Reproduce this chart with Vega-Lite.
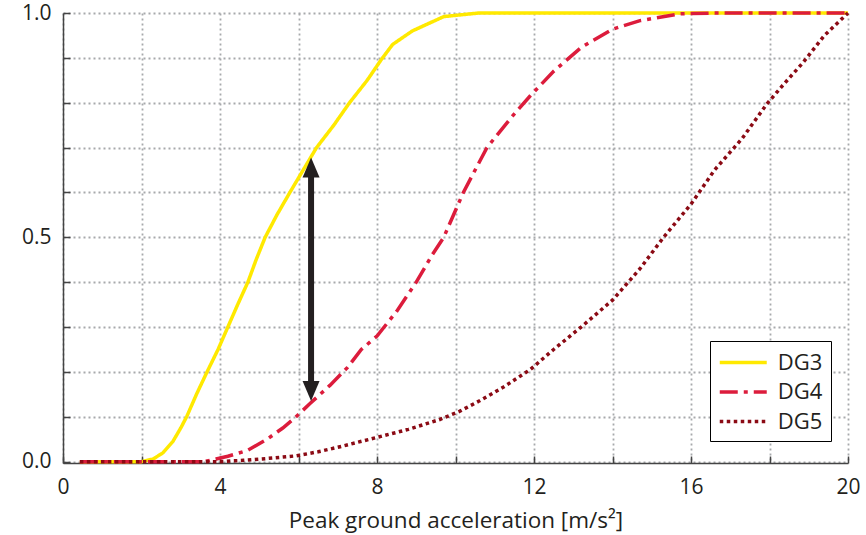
{
  "$schema": "https://vega.github.io/schema/vega-lite/v6.json",
  "width": 785,
  "height": 450,
  "autosize": "none",
  "padding": {"left": 63, "top": 13, "right": 18, "bottom": 72},
  "config": {
    "view": {"stroke": null},
    "font": "Open Sans",
    "axis": {
      "grid": true,
      "gridColor": "#a7a9ac",
      "gridDash": [2, 3],
      "gridWidth": 1.8,
      "domainColor": "#444444",
      "domainWidth": 1.5,
      "tickColor": "#444444",
      "tickWidth": 1.5,
      "tickSize": -7,
      "labelFlush": false,
      "labelFont": "Open Sans",
      "labelFontSize": 21,
      "labelColor": "#231f20",
      "titleFont": "Open Sans",
      "titleFontSize": 22.5,
      "titleFontWeight": "normal",
      "titleColor": "#231f20"
    },
    "legend": {
      "title": null,
      "orient": "none",
      "legendX": 647,
      "legendY": 328,
      "strokeColor": "#000000",
      "fillColor": "#ffffff",
      "padding": 8,
      "symbolType": "M-2,0L2,0",
      "symbolSize": 552,
      "symbolOffset": 11.75,
      "symbolStrokeWidth": 3.5,
      "symbolFillColor": "transparent",
      "labelFontSize": 22,
      "labelFont": "Open Sans",
      "labelColor": "#231f20",
      "labelOffset": 21,
      "rowPadding": 4.5
    }
  },
  "datasets": {
    "curves": [
      {"g": "DG3", "x": 0.43, "y": 0},
      {"g": "DG3", "x": 2.0, "y": 0},
      {"g": "DG3", "x": 2.3, "y": 0.006},
      {"g": "DG3", "x": 2.55, "y": 0.02},
      {"g": "DG3", "x": 2.8, "y": 0.045},
      {"g": "DG3", "x": 3.0, "y": 0.075},
      {"g": "DG3", "x": 3.15, "y": 0.1},
      {"g": "DG3", "x": 3.4, "y": 0.15},
      {"g": "DG3", "x": 3.67, "y": 0.2},
      {"g": "DG3", "x": 3.95, "y": 0.25},
      {"g": "DG3", "x": 4.2, "y": 0.3},
      {"g": "DG3", "x": 4.45, "y": 0.35},
      {"g": "DG3", "x": 4.71, "y": 0.4},
      {"g": "DG3", "x": 4.92, "y": 0.45},
      {"g": "DG3", "x": 5.15, "y": 0.5},
      {"g": "DG3", "x": 5.45, "y": 0.55},
      {"g": "DG3", "x": 5.78, "y": 0.6},
      {"g": "DG3", "x": 6.12, "y": 0.65},
      {"g": "DG3", "x": 6.46, "y": 0.7},
      {"g": "DG3", "x": 6.9, "y": 0.75},
      {"g": "DG3", "x": 7.3, "y": 0.8},
      {"g": "DG3", "x": 7.75, "y": 0.85},
      {"g": "DG3", "x": 8.1, "y": 0.895},
      {"g": "DG3", "x": 8.4, "y": 0.93},
      {"g": "DG3", "x": 8.9, "y": 0.96},
      {"g": "DG3", "x": 9.7, "y": 0.992},
      {"g": "DG3", "x": 10.6, "y": 1.0},
      {"g": "DG3", "x": 20, "y": 1.0},
      {"g": "DG4", "x": 0.43, "y": 0},
      {"g": "DG4", "x": 3.6, "y": 0},
      {"g": "DG4", "x": 3.9, "y": 0.006},
      {"g": "DG4", "x": 4.2, "y": 0.012},
      {"g": "DG4", "x": 4.7, "y": 0.025},
      {"g": "DG4", "x": 5.2, "y": 0.05},
      {"g": "DG4", "x": 5.6, "y": 0.075},
      {"g": "DG4", "x": 5.9, "y": 0.097},
      {"g": "DG4", "x": 6.3, "y": 0.13},
      {"g": "DG4", "x": 6.8, "y": 0.17},
      {"g": "DG4", "x": 7.25, "y": 0.21},
      {"g": "DG4", "x": 7.6, "y": 0.25},
      {"g": "DG4", "x": 8.0, "y": 0.28},
      {"g": "DG4", "x": 8.5, "y": 0.335},
      {"g": "DG4", "x": 9.0, "y": 0.4},
      {"g": "DG4", "x": 9.4, "y": 0.46},
      {"g": "DG4", "x": 9.7, "y": 0.5},
      {"g": "DG4", "x": 10.2, "y": 0.6},
      {"g": "DG4", "x": 10.8, "y": 0.7},
      {"g": "DG4", "x": 11.45, "y": 0.77},
      {"g": "DG4", "x": 11.9, "y": 0.815},
      {"g": "DG4", "x": 12.5, "y": 0.87},
      {"g": "DG4", "x": 13.2, "y": 0.923},
      {"g": "DG4", "x": 14.0, "y": 0.964},
      {"g": "DG4", "x": 14.7, "y": 0.983},
      {"g": "DG4", "x": 15.7, "y": 0.998},
      {"g": "DG4", "x": 16.6, "y": 1.0},
      {"g": "DG4", "x": 20, "y": 1.0},
      {"g": "DG5", "x": 0.43, "y": 0},
      {"g": "DG5", "x": 4.0, "y": 0},
      {"g": "DG5", "x": 4.6, "y": 0.003},
      {"g": "DG5", "x": 5.2, "y": 0.007},
      {"g": "DG5", "x": 5.95, "y": 0.013},
      {"g": "DG5", "x": 6.5, "y": 0.022},
      {"g": "DG5", "x": 7.0, "y": 0.032},
      {"g": "DG5", "x": 7.5, "y": 0.043},
      {"g": "DG5", "x": 8.0, "y": 0.054},
      {"g": "DG5", "x": 8.8, "y": 0.072},
      {"g": "DG5", "x": 9.6, "y": 0.094},
      {"g": "DG5", "x": 10.1, "y": 0.112},
      {"g": "DG5", "x": 10.6, "y": 0.135},
      {"g": "DG5", "x": 11.2, "y": 0.165},
      {"g": "DG5", "x": 11.9, "y": 0.205},
      {"g": "DG5", "x": 12.5, "y": 0.25},
      {"g": "DG5", "x": 13.2, "y": 0.3},
      {"g": "DG5", "x": 14.0, "y": 0.36},
      {"g": "DG5", "x": 14.7, "y": 0.43},
      {"g": "DG5", "x": 15.3, "y": 0.5},
      {"g": "DG5", "x": 16.0, "y": 0.574},
      {"g": "DG5", "x": 16.6, "y": 0.65},
      {"g": "DG5", "x": 17.3, "y": 0.72},
      {"g": "DG5", "x": 17.93, "y": 0.797},
      {"g": "DG5", "x": 18.4, "y": 0.845},
      {"g": "DG5", "x": 18.86, "y": 0.89},
      {"g": "DG5", "x": 19.4, "y": 0.95},
      {"g": "DG5", "x": 20, "y": 1.0}
    ],
    "arrow": [{"x": 6.32, "top": 0.678, "bottom": 0.135}]
  },
  "layer": [
    {
      "data": {"name": "curves"},
      "mark": {"type": "line", "strokeWidth": 3.5, "strokeCap": "butt"},
      "encoding": {
        "x": {
          "field": "x", "type": "quantitative",
          "scale": {"domain": [0, 20], "nice": false, "zero": false},
          "axis": {
            "values": [0, 2, 4, 6, 8, 10, 12, 14, 16, 18, 20],
            "labelExpr": "datum.value % 4 == 0 ? datum.label : ''",
            "title": "Peak ground acceleration [m/s²]",
            "labelPadding": 20,
            "titlePadding": 12
          }
        },
        "y": {
          "field": "y", "type": "quantitative",
          "scale": {"domain": [-0.003, 1], "nice": false, "zero": false},
          "axis": {
            "values": [0, 0.1, 0.2, 0.3, 0.4, 0.5, 0.6, 0.7, 0.8, 0.9, 1],
            "labelExpr": "datum.value == 0 || datum.value == 0.5 || datum.value == 1 ? format(datum.value, '.1f') : ''",
            "title": null,
            "labelPadding": 19
          }
        },
        "color": {
          "field": "g", "type": "nominal",
          "scale": {"domain": ["DG3", "DG4", "DG5"], "range": ["#ffe900", "#dc1c3c", "#8b0a14"]},
          "legend": {"title": null}
        },
        "strokeDash": {
          "field": "g", "type": "nominal",
          "scale": {"domain": ["DG3", "DG4", "DG5"], "range": [[1, 0], [18, 6, 4, 6], [3.5, 3.5]]},
          "legend": {"title": null}
        }
      }
    },
    {
      "data": {"name": "arrow"},
      "mark": {"type": "rule", "color": "#231f20", "strokeWidth": 6, "yOffset": 10, "y2Offset": -10},
      "encoding": {
        "x": {"field": "x", "type": "quantitative"},
        "y": {"field": "top", "type": "quantitative"},
        "y2": {"field": "bottom"}
      }
    },
    {
      "data": {"name": "arrow"},
      "mark": {"type": "point", "shape": "M0,0L-0.85,2L0.85,2Z", "size": 400, "filled": true, "opacity": 1, "color": "#231f20"},
      "encoding": {
        "x": {"field": "x", "type": "quantitative"},
        "y": {"field": "top", "type": "quantitative"}
      }
    },
    {
      "data": {"name": "arrow"},
      "mark": {"type": "point", "shape": "M0,0L-0.85,-2L0.85,-2Z", "size": 400, "filled": true, "opacity": 1, "color": "#231f20"},
      "encoding": {
        "x": {"field": "x", "type": "quantitative"},
        "y": {"field": "bottom", "type": "quantitative"}
      }
    }
  ]
}
